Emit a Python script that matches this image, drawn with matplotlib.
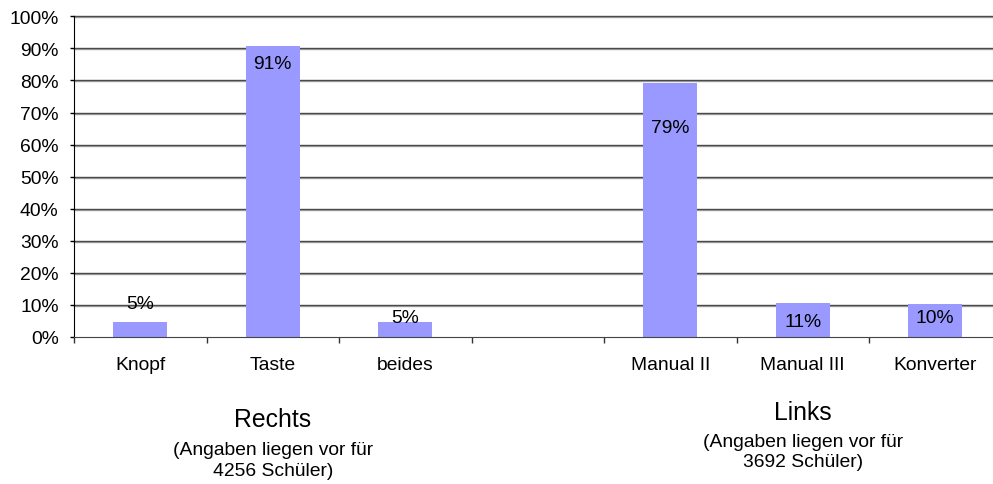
import numpy as np
import matplotlib
matplotlib.use("Agg")
from matplotlib import pyplot as plt
from matplotlib.ticker import FixedLocator, FuncFormatter
import matplotlib.transforms as mtransforms

plt.rcParams['font.family'] = ['Liberation Sans', 'DejaVu Sans']

# categories (empty slot separates the two groups)
categories = ["Knopf", "Taste", "beides", "", "Manual II", "Manual III", "Konverter"]
values = [4.7, 90.6, 4.7, np.nan, 79.2, 10.6, 10.3]
value_labels = ["5%", "91%", "5%", "", "79%", "11%", "10%"]
y_ticks = [0, 10, 20, 30, 40, 50, 60, 70, 80, 90, 100]

group_titles = ["Rechts", "Links"]
group_notes = ["(Angaben liegen vor für\n4256 Schüler)", "(Angaben liegen vor für\n3692 Schüler)"]
group_centers = [1, 5]

# label offsets from bar top, in pixels (positive = up), as Excel placed them
label_offsets = [18, -17, 4, 0, -44, -18, -14]

bar_color = "#9999FF"
W, H = 993, 485
DPI = 100


def main():
    fig = plt.figure(figsize=(W / DPI, H / DPI), dpi=DPI)
    left, right, top, bottom = 74, 1001.5, 17.3, 338
    ax = fig.add_axes([left / W, 1 - bottom / H, (right - left) / W, (bottom - top) / H])

    x = np.arange(len(categories))
    ax.set_xlim(-0.5, len(categories) - 0.5)
    ax.set_ylim(0, 100)

    ytr = ax.get_yaxis_transform()
    shadow = ytr + mtransforms.ScaledTranslation(0, -1.0 / DPI, fig.dpi_scale_trans)
    for yv in y_ticks[1:]:
        ax.plot([0, 1], [yv, yv], color="#a8a8a8", lw=1.0, zorder=1, transform=shadow, clip_on=False)
        ax.plot([0, 1], [yv, yv], color="#4a4a4a", lw=1.0, zorder=1, transform=ytr, clip_on=False)

    ax.bar(x, values, width=0.41, color=bar_color, zorder=2)

    for xi, v, lab, off in zip(x, values, value_labels, label_offsets):
        if not lab:
            continue
        ax.annotate(lab, (xi, v), xytext=(0, off * 72 / DPI), textcoords="offset points",
                    ha="center", va="center", fontsize=13.9, color="black", zorder=3)

    ax.set_yticks(y_ticks)
    ax.yaxis.set_major_formatter(FuncFormatter(lambda v, p: "%d%%" % v))
    ax.tick_params(axis="y", direction="out", length=3, width=1, pad=8, labelsize=13.9, colors="black")

    ax.xaxis.set_major_locator(FixedLocator(np.arange(-0.5, len(categories), 1.0)))
    ax.xaxis.set_major_formatter(FuncFormatter(lambda v, p: ""))
    ax.xaxis.set_minor_locator(FixedLocator(x))
    ax.set_xticklabels(categories, minor=True)
    ax.tick_params(axis="x", which="major", direction="out", length=4.5, width=1, color="#333333")
    ax.tick_params(axis="x", which="minor", length=0, pad=14, labelsize=13.9)

    ax.spines["top"].set_visible(False)
    ax.spines["right"].set_visible(False)
    ax.spines["left"].set_color("black")
    ax.spines["bottom"].set_color("#444444")

    # group captions under the axis
    title_y = [420, 413]
    note_y = [461, 452.5]
    tr = mtransforms.blended_transform_factory(ax.transData, fig.transFigure)
    for gc, t, n, ty, ny in zip(group_centers, group_titles, group_notes, title_y, note_y):
        ax.text(gc, 1 - ty / H, t, transform=tr, ha="center", va="center", fontsize=17.8)
        ax.text(gc, 1 - ny / H, n, transform=tr, ha="center", va="center", fontsize=13.9,
                linespacing=1.3, multialignment="center")

    plt.savefig("out.png", dpi=DPI)


if __name__ == "__main__":
    main()
